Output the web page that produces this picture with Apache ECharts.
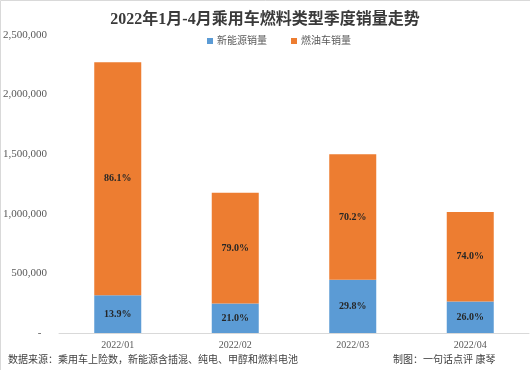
<!DOCTYPE html>
<html>
<head>
<meta charset="utf-8">
<script src="https://cdn.jsdelivr.net/npm/echarts@6/dist/echarts.min.js"></script>
<style>html,body{margin:0;padding:0;background:#fff}#c{width:530px;height:370px}</style>
</head>
<body>
<div id="c"></div>
<script>
const categories = ['2022/01', '2022/02', '2022/03', '2022/04'];
const nevSales = [315700, 247000, 447000, 264000];
const fuelSales = [1955300, 930000, 1052000, 751000];
const yTicks = [0, 500000, 1000000, 1500000, 2000000, 2500000];
const seriesNames = ['新能源销量', '燃油车销量'];
const titleText = '2022年1月-4月乘用车燃料类型季度销量走势';
const sourceText = '数据来源：乘用车上险数，新能源含插混、纯电、甲醇和燃料电池';
const authorText = '制图：一句话点评 康琴';

const serif = '"Liberation Serif","DejaVu Serif","Noto Sans CJK SC",serif';
const totals = categories.map((_, i) => nevSales[i] + fuelSales[i]);
function pct(arr, i) { return (arr[i] / totals[i] * 100).toFixed(1) + '%'; }
function fmt(v) {
  if (v === 0) return '-  ';
  return v.toString().replace(/\B(?=(\d{3})+(?!\d))/g, ',');
}

const chart = echarts.init(document.getElementById('c'), null, {renderer: 'canvas'});
chart.setOption({
  backgroundColor: '#fff',
  animation: false,
  title: {
    text: titleText, left: 'center', top: 7,
    textStyle: {fontFamily: serif, fontSize: 16, fontWeight: 'bold', color: '#3a3a3a'}
  },
  legend: {
    data: seriesNames, top: 31, left: 202,
    itemWidth: 6, itemHeight: 6, itemGap: 24, icon: 'rect',
    textStyle: {fontFamily: serif, fontSize: 10, color: '#595959', padding: [0, 0, 0, -1]}
  },
  grid: {left: 59, right: 1, top: 35, bottom: 37},
  xAxis: {
    type: 'category', data: categories,
    axisLine: {lineStyle: {color: '#d9d9d9'}},
    axisTick: {show: false},
    axisLabel: {fontFamily: serif, fontSize: 10, color: '#595959', margin: 7}
  },
  yAxis: {
    type: 'value', min: yTicks[0], max: yTicks[yTicks.length - 1], interval: yTicks[1] - yTicks[0],
    splitLine: {show: false}, axisLine: {show: false}, axisTick: {show: false},
    axisLabel: {fontFamily: serif, fontSize: 11, color: '#595959', margin: 12, formatter: fmt}
  },
  series: [
    {
      name: seriesNames[0], type: 'bar', stack: 'a', data: nevSales, barWidth: '40%',
      itemStyle: {color: '#5B9BD5'},
      label: {show: true, position: 'inside', fontFamily: serif, fontSize: 10, fontWeight: 'bold', color: '#262626',
        formatter: p => pct(nevSales, p.dataIndex)}
    },
    {
      name: seriesNames[1], type: 'bar', stack: 'a', data: fuelSales, barWidth: '40%',
      itemStyle: {color: '#ED7D31'},
      label: {show: true, position: 'inside', fontFamily: serif, fontSize: 10, fontWeight: 'bold', color: '#262626',
        formatter: p => pct(fuelSales, p.dataIndex)}
    }
  ],
  graphic: [
    {type: 'rect', shape: {x: 0.5, y: 0.5, width: 560, height: 400}, style: {fill: null, stroke: '#d9d9d9', lineWidth: 1}, silent: true},
    {type: 'text', left: 8, top: 355, style: {text: sourceText, font: '10px ' + serif, fill: '#404040'}},
    {type: 'text', left: 393, top: 355, style: {text: authorText, font: '10px ' + serif, fill: '#404040'}}
  ]
});
</script>
</body>
</html>
